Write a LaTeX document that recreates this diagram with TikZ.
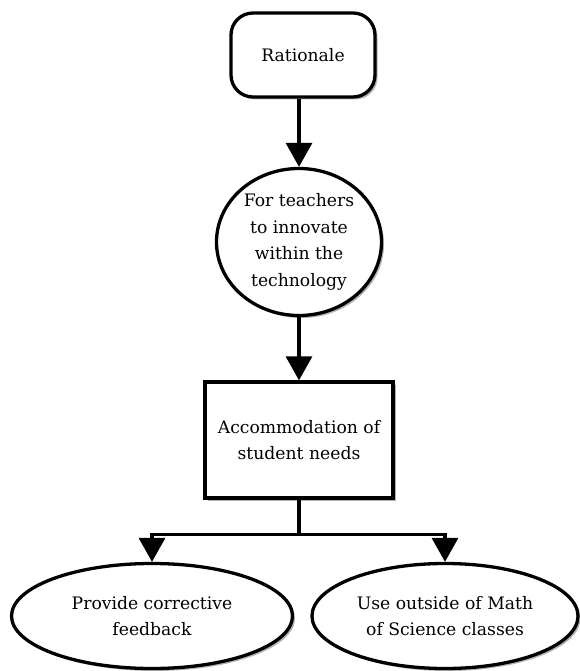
\documentclass[tikz,border=0pt]{standalone}
\usepackage{fontspec}
\setmainfont{DejaVu Serif}
\usetikzlibrary{arrows.meta,shapes.geometric,shadows,calc}
\begin{document}
\begin{tikzpicture}[x=1pt,y=1pt,
  every node/.style={font=\fontsize{17.2}{26.5}\selectfont, align=center, inner sep=0pt},
  shade/.style={drop shadow={shadow xshift=2.5pt, shadow yshift=-2.5pt, fill=black, opacity=0.3}},
  shapebox/.style={draw=black, line width=3.3pt, fill=white, shade},
  conn/.style={line width=3.3pt, -{Triangle[length=24pt,width=26pt]}},
  plainline/.style={line width=3.3pt}]
  \useasboundingbox (0,0) rectangle (580,-671);

  % top: rationale
  \node[shapebox, rounded corners=22pt, minimum width=144pt, minimum height=84pt] (r) at (303,-55) {Rationale};
  % purpose circle
  \node[shapebox, ellipse, minimum width=165pt, minimum height=147pt] (c) at (299,-242)
    {For teachers\\to innovate\\within the\\technology};
  % accommodation box
  \node[shapebox, rectangle, minimum width=188pt, minimum height=116pt] (b) at (299,-440)
    {Accommodation of\\student needs};
  % two outcomes
  \node[shapebox, ellipse, minimum width=281pt, minimum height=105pt] (e1) at (152,-616)
    {Provide corrective\\feedback};
  \node[shapebox, ellipse, minimum width=266pt, minimum height=105pt] (e2) at (445,-616)
    {Use outside of Math\\of Science classes};

  % connectors
  \draw[conn] (r.south -| c.north) -- (c.north);
  \draw[conn] (c.south) -- (b.north);
  \coordinate (split) at ($(b.south)+(0,-35)$);
  \draw[plainline] (b.south) -- (split);
  \draw[conn] (split) -| (e1.north);
  \draw[conn] (split) -| (e2.north);
\end{tikzpicture}
\end{document}
